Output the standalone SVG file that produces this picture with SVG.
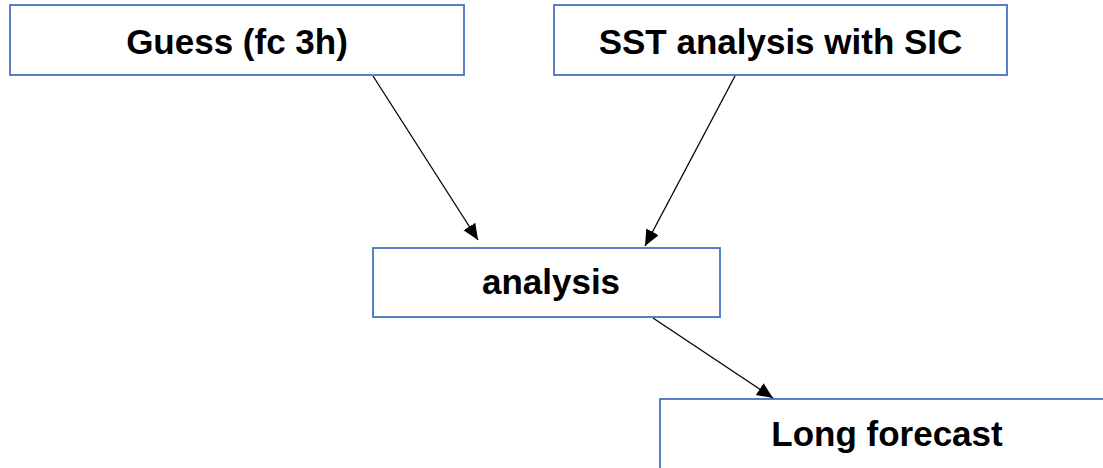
<svg xmlns="http://www.w3.org/2000/svg" width="1103" height="468" viewBox="0 0 1103 468">
  <style>
    .box { fill: #ffffff; stroke: #4472C4; stroke-width: 1.8; }
    .label { font-family: "Liberation Sans", Arial, sans-serif; font-weight: bold; font-size: 35px; fill: #000000; text-anchor: middle; }
    .conn { stroke: #000000; stroke-width: 1.3; fill: none; marker-end: url(#arrow); }
  </style>
  <defs>
    <marker id="arrow" markerUnits="userSpaceOnUse" markerWidth="18" markerHeight="15" refX="16" refY="7" orient="auto">
      <path d="M0,0 L16,7 L0,14 z" fill="#000000"/>
    </marker>
  </defs>
  <rect width="1103" height="468" fill="#ffffff"/>
  <g id="node-guess">
    <rect class="box" x="10" y="5" width="454" height="70"/>
    <text class="label" x="237" y="54">Guess (fc 3h)</text>
  </g>
  <g id="node-sst">
    <rect class="box" x="554" y="5" width="453" height="70"/>
    <text class="label" x="780.5" y="54">SST analysis with SIC</text>
  </g>
  <g id="node-analysis">
    <rect class="box" x="373" y="248" width="347" height="69"/>
    <text class="label" x="551" y="294">analysis</text>
  </g>
  <g id="node-long">
    <rect class="box" x="660" y="399" width="454" height="72"/>
    <text class="label" x="887" y="446">Long forecast</text>
  </g>
  <g id="connectors">
    <line class="conn" x1="373" y1="76" x2="478" y2="240"/>
    <line class="conn" x1="735" y1="76" x2="645" y2="246"/>
    <line class="conn" x1="653" y1="318" x2="773" y2="398"/>
  </g>
</svg>
